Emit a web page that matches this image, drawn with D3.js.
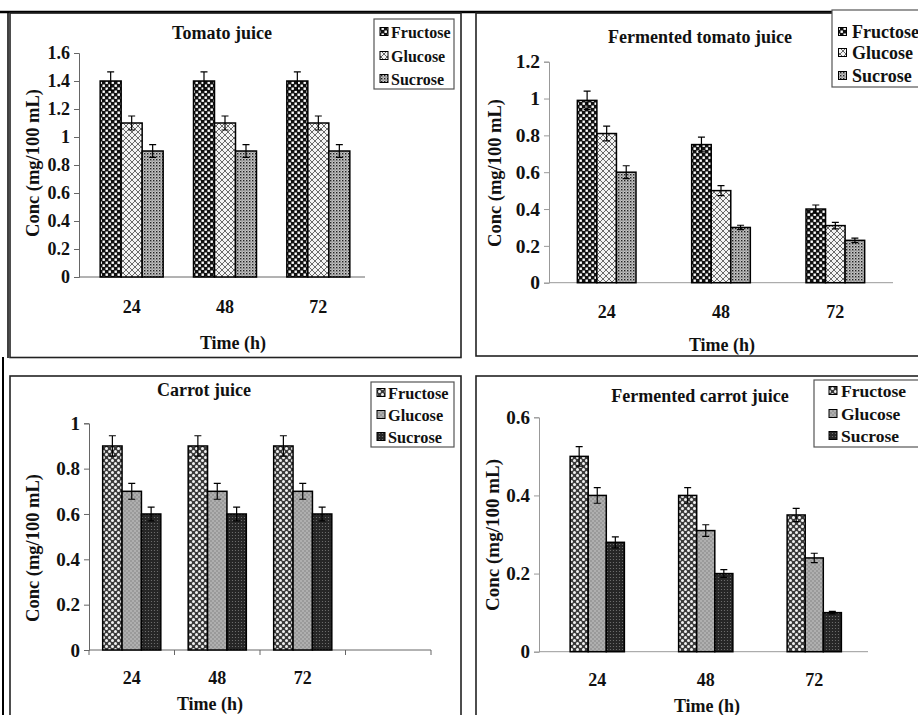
<html>
<head>
<meta charset="utf-8">
<script src="https://cdnjs.cloudflare.com/ajax/libs/d3/7.8.5/d3.min.js"></script>
<style>
  body { margin: 0; background: #fff; }
  svg text { font-family: "Liberation Serif", "Times New Roman", serif; font-weight: bold; fill: #111; }
</style>
</head>
<body>
<svg id="chart" width="918" height="715"></svg>
<script>
// ---- data ----
const times = ["24", "48", "72"];
const sugars = ["Fructose", "Glucose", "Sucrose"];

// values per sugar (rows) at 24/48/72 h
const tomatoValues = [[1.4, 1.4, 1.4], [1.1, 1.1, 1.1], [0.9, 0.9, 0.9]];
const tomatoErrors = [[0.065, 0.065, 0.065], [0.05, 0.05, 0.05], [0.045, 0.045, 0.045]];
const tomatoTicks = [0, 0.2, 0.4, 0.6, 0.8, 1, 1.2, 1.4, 1.6];

const fermTomatoValues = [[0.99, 0.75, 0.40], [0.81, 0.50, 0.31], [0.60, 0.30, 0.23]];
const fermTomatoErrors = [[0.05, 0.04, 0.022], [0.04, 0.027, 0.018], [0.035, 0.012, 0.012]];
const fermTomatoTicks = [0, 0.2, 0.4, 0.6, 0.8, 1, 1.2];

const carrotValues = [[0.9, 0.9, 0.9], [0.7, 0.7, 0.7], [0.6, 0.6, 0.6]];
const carrotErrors = [[0.045, 0.045, 0.045], [0.035, 0.035, 0.035], [0.03, 0.03, 0.03]];
const carrotTicks = [0, 0.2, 0.4, 0.6, 0.8, 1];

const fermCarrotValues = [[0.50, 0.40, 0.35], [0.40, 0.31, 0.24], [0.28, 0.20, 0.10]];
const fermCarrotErrors = [[0.025, 0.02, 0.017], [0.02, 0.015, 0.012], [0.014, 0.01, 0.003]];
const fermCarrotTicks = [0, 0.2, 0.4, 0.6];

const svg = d3.select("#chart");
const defs = svg.append("defs");

// ---- fill patterns ----
function pat(id, size, bg, draw) {
  const p = defs.append("pattern").attr("id", id)
    .attr("patternUnits", "userSpaceOnUse").attr("width", size).attr("height", size);
  p.append("rect").attr("width", size).attr("height", size).attr("fill", bg);
  draw(p);
}
pat("pChecker", 6, "#111", p => {
  p.append("rect").attr("x", 0.5).attr("y", 0.5).attr("width", 2.4).attr("height", 2.4).attr("fill", "#fff");
  p.append("rect").attr("x", 3.5).attr("y", 3.5).attr("width", 2.4).attr("height", 2.4).attr("fill", "#fff");
});
pat("pHatch", 6, "#f4f4f4", p => {
  p.append("path").attr("d", "M0,0L6,6M6,0L0,6").attr("stroke", "#6a6a6a").attr("stroke-width", 1);
});
pat("pSpeck", 3, "#c4c4c4", p => {
  p.append("rect").attr("width", 1.4).attr("height", 1.4).attr("fill", "#222");
  p.append("rect").attr("x", 1.5).attr("y", 1.5).attr("width", 1).attr("height", 1).attr("fill", "#555");
});
pat("pDots", 6, "#3a3a3a", p => {
  p.append("circle").attr("cx", 1.5).attr("cy", 1.5).attr("r", 1.5).attr("fill", "#f2f2f2");
  p.append("circle").attr("cx", 4.5).attr("cy", 4.5).attr("r", 1.5).attr("fill", "#f2f2f2");
});
pat("pGray", 4, "#9a9a9a", p => {
  p.append("circle").attr("cx", 1).attr("cy", 1).attr("r", 0.7).attr("fill", "#d4d4d4");
  p.append("circle").attr("cx", 3).attr("cy", 3).attr("r", 0.7).attr("fill", "#d4d4d4");
});
pat("pDark", 3, "#262626", p => {
  p.append("circle").attr("cx", 1.5).attr("cy", 1.5).attr("r", 0.6).attr("fill", "#777");
});

const tomatoFills = ["url(#pChecker)", "url(#pHatch)", "url(#pSpeck)"];
const carrotFills = ["url(#pDots)", "url(#pGray)", "url(#pDark)"];

// ---- frames ----
svg.append("line").attr("x1", 0).attr("x2", 918).attr("y1", 12).attr("y2", 12)
  .attr("stroke", "#000").attr("stroke-width", 2.5);
svg.append("line").attr("x1", 3).attr("x2", 3).attr("y1", 357).attr("y2", 715)
  .attr("stroke", "#000").attr("stroke-width", 2);
svg.append("line").attr("x1", 8).attr("x2", 8).attr("y1", 12).attr("y2", 358)
  .attr("stroke", "#000").attr("stroke-width", 1.5);
const boxes = [[10, 13, 461, 357.5], [476, 13, 930, 356], [10, 376, 461, 730], [476, 376, 930, 730]];
boxes.forEach(b => {
  svg.append("rect").attr("x", b[0]).attr("y", b[1]).attr("width", b[2] - b[0]).attr("height", b[3] - b[1])
    .attr("fill", "none").attr("stroke", "#222").attr("stroke-width", 1.6);
});

// ---- one panel ----
function panel(o) {
  const g = svg.append("g");
  const y = d3.scaleLinear().domain(o.domain).range([o.y0, o.yTop]);
  const cats = o.extraCat ? times.concat([""]) : times;
  const x = d3.scaleBand().domain(cats).range(o.band).paddingInner(o.pad).paddingOuter(o.pad / 2);
  const xs = d3.scaleBand().domain(sugars).range([0, x.bandwidth()]);

  // y axis
  const ya = g.append("g").attr("transform", `translate(${o.axisX},0)`)
    .call(d3.axisLeft(y).tickValues(o.ticks).tickSize(5).tickPadding(4).tickFormat(d3.format("~g")));
  ya.select(".domain").attr("stroke", o.axisColor);
  ya.selectAll(".tick line").attr("stroke", o.axisColor);
  ya.selectAll(".tick text").attr("font-size", o.tickSize).attr("font-family", "Liberation Serif").attr("fill", "#111");

  // x axis
  g.append("line").attr("x1", o.axisX).attr("x2", o.axisEnd).attr("y1", o.y0).attr("y2", o.y0)
    .attr("stroke", o.axisColor);
  if (o.extraCat) {
    const edges = cats.map(c => x(c) - x.step() * o.pad / 2).concat([o.band[1]]);
    g.selectAll(".xt").data(edges).join("line")
      .attr("x1", d => d).attr("x2", d => d).attr("y1", o.y0).attr("y2", o.y0 + 5)
      .attr("stroke", o.axisColor);
  }
  g.selectAll(".cat").data(times).join("text")
    .attr("x", d => x(d) + x.bandwidth() / 2).attr("y", o.catY)
    .attr("text-anchor", "middle").attr("font-size", 18).text(d => d);

  // bars + error bars
  sugars.forEach((s, si) => {
    const grp = g.append("g");
    grp.selectAll("rect").data(times).join("rect")
      .attr("x", (d, i) => x(d) + xs(s))
      .attr("y", (d, i) => y(o.values[si][i]))
      .attr("width", xs.bandwidth())
      .attr("height", (d, i) => y(0) - y(o.values[si][i]))
      .attr("fill", o.fills[si]).attr("stroke", "#000").attr("stroke-width", 1.5);
    const eb = grp.selectAll(".eb").data(times).join("g");
    eb.append("path").attr("d", (d, i) => {
      const cx = x(d) + xs(s) + xs.bandwidth() / 2;
      const hi = y(o.values[si][i] + o.errors[si][i]);
      const lo = y(o.values[si][i] - o.errors[si][i]);
      return `M${cx},${hi}V${lo}M${cx - 3.5},${hi}H${cx + 3.5}M${cx - 3.5},${lo}H${cx + 3.5}`;
    }).attr("stroke", "#000").attr("stroke-width", 1.2).attr("fill", "none");
  });

  // titles
  g.append("text").attr("x", o.titleX).attr("y", o.titleY).attr("text-anchor", "middle")
    .attr("font-size", 18).text(o.title);
  g.append("text").attr("x", o.xtX).attr("y", o.xtY).attr("text-anchor", "middle")
    .attr("font-size", 18).text("Time (h)");
  g.append("text").attr("transform", `translate(${o.ytX},${o.ytY}) rotate(-90)`)
    .attr("text-anchor", "middle").attr("font-size", o.ytSize).text("Conc (mg/100 mL)");

  // legend
  const L = o.legend;
  g.append("rect").attr("x", L.x).attr("y", L.y).attr("width", L.w).attr("height", L.h)
    .attr("fill", "#fff").attr("stroke", "#555").attr("stroke-width", 1.2);
  sugars.forEach((s, si) => {
    const ry = L.rows[si];
    g.append("rect").attr("x", L.sx).attr("y", ry - 4.5).attr("width", 8).attr("height", 8)
      .attr("fill", o.fills[si]).attr("stroke", "#000").attr("stroke-width", 1);
    g.append("text").attr("x", L.tx).attr("y", ry + 5.5).attr("font-size", L.size).text(s);
  });
}

panel({
  title: "Tomato juice", titleX: 222, titleY: 39,
  values: tomatoValues, errors: tomatoErrors, ticks: tomatoTicks, fills: tomatoFills,
  domain: [0, 1.6], y0: 277, yTop: 53, axisX: 79, axisEnd: 365, band: [85, 365], pad: 0.325,
  axisColor: "#666", tickSize: 18, catY: 313, xtX: 233, xtY: 349, ytX: 39, ytY: 163, ytSize: 18.5,
  legend: { x: 374, y: 19, w: 80, h: 70, rows: [32, 56, 79], sx: 380, tx: 391, size: 16 }
});
panel({
  title: "Fermented tomato juice", titleX: 700, titleY: 43,
  values: fermTomatoValues, errors: fermTomatoErrors, ticks: fermTomatoTicks, fills: tomatoFills,
  domain: [0, 1.2], y0: 282.7, yTop: 61.7, axisX: 549, axisEnd: 893, band: [549.5, 892.5], pad: 0.487,
  axisColor: "#999", tickSize: 19.5, catY: 318, xtX: 722, xtY: 351, ytX: 501, ytY: 173, ytSize: 18.5,
  legend: { x: 832, y: 10, w: 100, h: 77, rows: [32, 53, 76], sx: 838.5, tx: 852, size: 18 }
});
panel({
  title: "Carrot juice", titleX: 204, titleY: 396, extraCat: true,
  values: carrotValues, errors: carrotErrors, ticks: carrotTicks, fills: carrotFills,
  domain: [0, 1], y0: 650, yTop: 423.3, axisX: 89, axisEnd: 431, band: [89, 431], pad: 0.32,
  axisColor: "#666", tickSize: 19, catY: 684, xtX: 210, xtY: 710, ytX: 39, ytY: 548, ytSize: 18.5,
  legend: { x: 371, y: 382, w: 83, h: 65, rows: [393, 415, 437], sx: 377, tx: 388, size: 16.3 }
});
panel({
  title: "Fermented carrot juice", titleX: 700, titleY: 402,
  values: fermCarrotValues, errors: fermCarrotErrors, ticks: fermCarrotTicks, fills: carrotFills,
  domain: [0, 0.6], y0: 651.7, yTop: 417.3, axisX: 539, axisEnd: 868, band: [543, 868.5], pad: 0.5,
  axisColor: "#999", tickSize: 19, catY: 686, xtX: 707, xtY: 712, ytX: 499, ytY: 535, ytSize: 19,
  legend: { x: 814, y: 380, w: 110, h: 67, rows: [391, 414, 436], sx: 829, tx: 841, size: 17.5 }
});
</script>
</body>
</html>
